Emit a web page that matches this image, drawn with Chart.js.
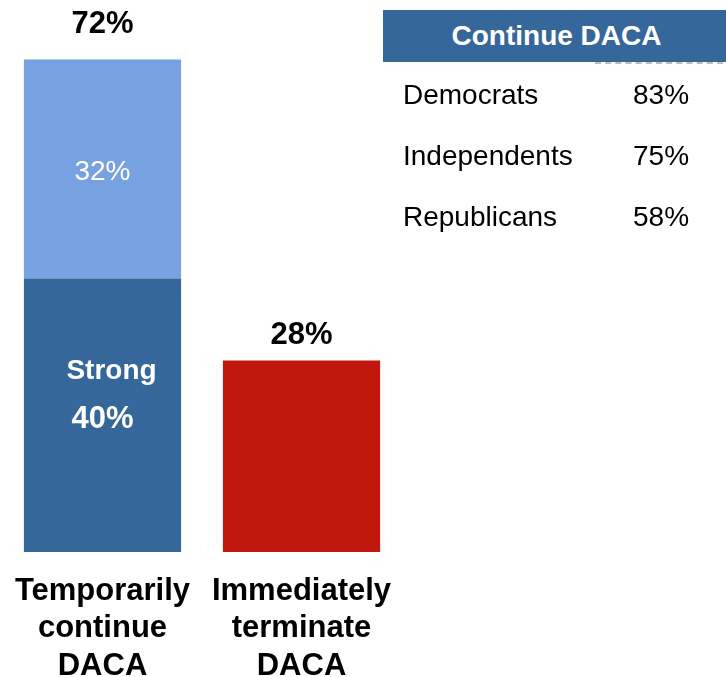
<!DOCTYPE html>
<html>
<head>
<meta charset="utf-8">
<script src="https://cdn.jsdelivr.net/npm/chart.js@4/dist/chart.umd.min.js"></script>
<style>
  body { margin: 0; background: #fff; font-family: "Liberation Sans", Arial, sans-serif; }
  #wrap { position: relative; width: 726px; height: 677px; overflow: hidden; }
  #chartBox { position: absolute; left: 0; top: 0; width: 405px; height: 677px; }
  #table { position: absolute; left: 383px; top: 10px; width: 343px; }
  #table .head { background: #35679a; color: #fff; font-weight: bold; font-size: 28px;
    height: 52px; line-height: 52px; text-align: center; padding-left: 4px; }
  #table .dash { position: absolute; left: 212px; top: 52px; width: 128px; border-top: 2px dashed #bbb; }
  #table .row { position: absolute; left: 20px; font-size: 28px; color: #000; }
  #table .row span { position: absolute; left: 230px; }
</style>
</head>
<body>
<div id="wrap">
  <div id="chartBox"><canvas id="daca"></canvas></div>
  <div id="table"></div>
</div>
<script>
const categories = [["Temporarily", "continue", "DACA"], ["Immediately", "terminate", "DACA"]];
const strongValues = [40, null];
const otherContinue = [32, null];
const terminateValues = [null, 28];
const totals = [72, 28];

const partyNames = ["Democrats", "Independents", "Republicans"];
const partyContinue = [83, 75, 58];

// table on the right
const tbl = document.getElementById("table");
tbl.innerHTML = '<div class="head">Continue DACA</div><div class="dash"></div>';
partyNames.forEach((name, i) => {
  const row = document.createElement("div");
  row.className = "row";
  row.style.top = (69 + i * 61) + "px";
  row.innerHTML = name + "<span>" + partyContinue[i] + "%</span>";
  tbl.appendChild(row);
});

// labels inside and above the bars
const totalOffsets = [-35, -25];
const barLabels = {
  id: "barLabels",
  afterDatasetsDraw(chart) {
    const ctx = chart.ctx;
    const y = chart.scales.y;
    ctx.save();
    ctx.textAlign = "center";
    ctx.textBaseline = "middle";

    // totals above the bars
    ctx.fillStyle = "#000";
    ctx.font = "bold 31px 'Liberation Sans', Arial";
    totals.forEach((t, i) => {
      const x = chart.getDatasetMeta(0).data[i].x;
      ctx.fillText(t + "%", x, y.getPixelForValue(t) + totalOffsets[i]);
    });

    const x0 = chart.getDatasetMeta(0).data[0].x;
    ctx.fillStyle = "#fff";
    const strongMid = y.getPixelForValue(strongValues[0] / 2);
    ctx.font = "bold 28px 'Liberation Sans', Arial";
    ctx.fillText("Strong", x0 + 9, strongMid - 44);
    ctx.font = "bold 31px 'Liberation Sans', Arial";
    ctx.fillText(strongValues[0] + "%", x0, strongMid + 4);

    ctx.font = "28px 'Liberation Sans', Arial";
    const otherMid = y.getPixelForValue(strongValues[0] + otherContinue[0] / 2);
    ctx.fillText(otherContinue[0] + "%", x0, otherMid + 3);
    ctx.restore();
  }
};

new Chart(document.getElementById("daca"), {
  type: "bar",
  data: {
    labels: categories,
    datasets: [
      { label: "Strong", data: strongValues, backgroundColor: "#35679a" },
      { label: "Continue", data: otherContinue, backgroundColor: "#77a1e0" },
      { label: "Terminate", data: terminateValues, backgroundColor: "#c0180c" },
    ],
  },
  options: {
    responsive: true,
    maintainAspectRatio: false,
    animation: false,
    barPercentage: 0.79,
    categoryPercentage: 1,
    layout: { padding: { left: 3, right: 4, top: 0, bottom: 0 } },
    plugins: { legend: { display: false }, tooltip: { enabled: false } },
    scales: {
      x: {
        stacked: true,
        grid: { display: false, drawTicks: false },
        border: { display: false },
        ticks: {
          color: "#000",
          font: { family: "'Liberation Sans', Arial", size: 31, weight: "bold", lineHeight: 1.2 },
          padding: 21,
          maxRotation: 0,
          autoSkip: false,
        },
        afterFit(scale) {
          // keep the bars where they are, labels may overhang
          scale.height = 125;
          scale.paddingLeft = 0;
          scale.paddingRight = 0;
        },
      },
      y: {
        stacked: true,
        display: false,
        min: 0,
        max: 80.7,
      },
    },
  },
  plugins: [barLabels],
});
</script>
</body>
</html>
